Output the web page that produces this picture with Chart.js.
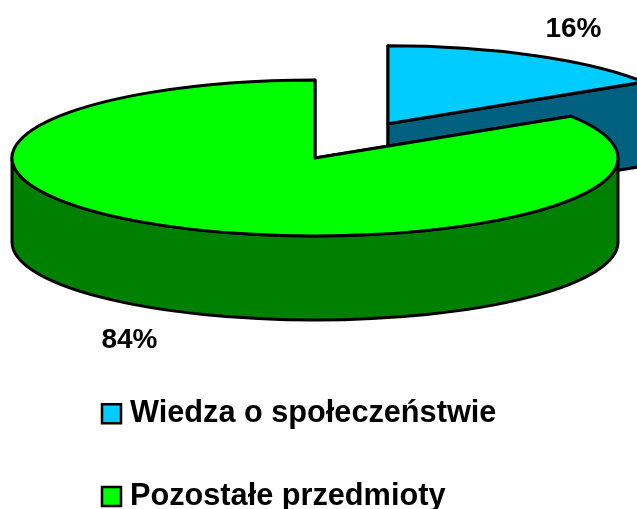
<!DOCTYPE html>
<html lang="pl">
<head>
<meta charset="utf-8">
<style>html,body{margin:0;padding:0;background:#fff;overflow:hidden}canvas{display:block}</style>
<script src="https://cdn.jsdelivr.net/npm/chart.js@4"></script>
</head>
<body>
<canvas id="c" width="637" height="509"></canvas>
<script>
const categories = ['Wiedza o społeczeństwie', 'Pozostałe przedmioty'];
const shares = [16, 84];
const topColors = ['#00CCFF', '#00FF00'];
const sideColors = ['#006080', '#008000'];
const explode = [151.5, 0];
const labelPositions = [[573.5, 29.5], [129.5, 340]];

const SQUASH = 78 / 303;
const DEPTH = 84;
const LINE = 3;

const pie3d = {
  id: 'pie3d',
  afterLayout(chart) {
    const lg = chart.legend;
    lg.left = 56.35;
    lg.top = 346.35;
    lg.bottom = 509;
  },
  beforeDatasetsDraw(chart) {
    const ctx = chart.ctx;
    const arcs = chart.getDatasetMeta(0).data;
    ctx.save();
    ctx.lineWidth = LINE;
    ctx.lineJoin = 'round';
    ctx.strokeStyle = '#000';
    arcs.forEach((arc, i) => {
      const { x, y, startAngle: a0, endAngle: a1, outerRadius: R } = arc;
      const mid = (a0 + a1) / 2;
      const off = arc.options.offset;
      const cx = x + Math.cos(mid) * off;
      const cy = y + Math.sin(mid) * off * SQUASH;
      const ry = R * SQUASH;
      const px = a => cx + R * Math.cos(a);
      const py = a => cy + ry * Math.sin(a);
      ctx.fillStyle = sideColors[i];
      // radial cut faces
      [a0, a1].forEach(a => {
        ctx.beginPath();
        ctx.moveTo(cx, cy);
        ctx.lineTo(px(a), py(a));
        ctx.lineTo(px(a), py(a) + DEPTH);
        ctx.lineTo(cx, cy + DEPTH);
        ctx.closePath();
        ctx.fill();
        ctx.stroke();
      });
      // outer wall: only the front half of the rim is visible
      const TAU = Math.PI * 2;
      for (let k = -1; k <= 1; k++) {
        const s = Math.max(a0, k * TAU);
        const e = Math.min(a1, k * TAU + Math.PI);
        if (e > s) {
          ctx.beginPath();
          ctx.ellipse(cx, cy, R, ry, 0, s, e);
          ctx.lineTo(px(e), py(e) + DEPTH);
          ctx.ellipse(cx, cy + DEPTH, R, ry, 0, e, s, true);
          ctx.closePath();
          ctx.fill();
          ctx.stroke();
        }
      }
      // top face
      ctx.fillStyle = arc.options.backgroundColor;
      ctx.beginPath();
      ctx.moveTo(cx, cy);
      ctx.ellipse(cx, cy, R, ry, 0, a0, a1);
      ctx.closePath();
      ctx.fill();
      ctx.stroke();
    });
    // percentage labels
    ctx.fillStyle = '#000';
    ctx.font = 'bold 28px "Liberation Sans", Arial, sans-serif';
    ctx.textAlign = 'center';
    ctx.textBaseline = 'middle';
    shares.forEach((v, i) => {
      ctx.fillText(v + '%', labelPositions[i][0], labelPositions[i][1]);
    });
    ctx.restore();
    return false;
  }
};

new Chart(document.getElementById('c'), {
  type: 'pie',
  data: {
    labels: categories,
    datasets: [{
      data: shares,
      backgroundColor: topColors,
      borderColor: '#000',
      borderWidth: 2.5,
      offset: explode
    }]
  },
  options: {
    responsive: false,
    animation: false,
    radius: 303,
    layout: { padding: { top: 25, right: 7, bottom: 42.6 } },
    plugins: {
      tooltip: { enabled: false },
      legend: {
        position: 'bottom',
        align: 'start',
        labels: {
          usePointStyle: true,
          pointStyle: 'rect',
          boxWidth: 6.3,
          boxHeight: 19,
          padding: 52,
          color: '#000',
          font: { family: '"Liberation Sans", Arial, sans-serif', size: 30.7, weight: 'bold' }
        }
      }
    }
  },
  plugins: [pie3d]
});
</script>
</body>
</html>
